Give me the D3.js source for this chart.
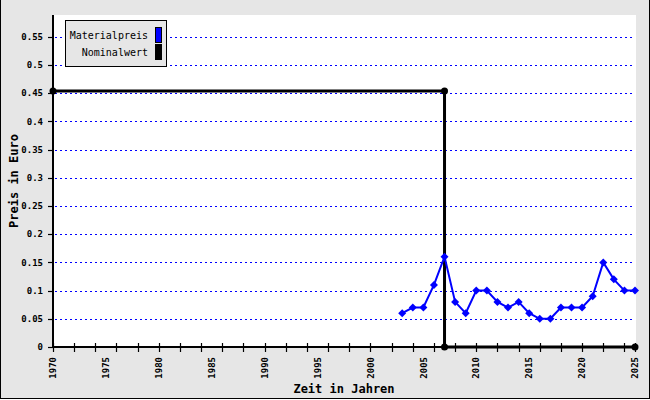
<!DOCTYPE html>
<html><head><meta charset="utf-8">
<script src="https://cdn.jsdelivr.net/npm/d3@7"></script>
<style>body{margin:0;background:#fff}svg{display:block}</style>
</head><body>
<script>
const years = [2003,2004,2005,2006,2007,2008,2009,2010,2011,2012,2013,2014,2015,2016,2017,2018,2019,2020,2021,2022,2023,2024,2025];
const materialpreis = [0.06,0.07,0.07,0.11,0.16,0.08,0.06,0.10,0.10,0.08,0.07,0.08,0.06,0.05,0.05,0.07,0.07,0.07,0.09,0.15,0.12,0.10,0.10];
const nomYears = [1970,2007,2007,2025];
const nominalwert = [0.454,0.454,0,0];
const yTicks = [0,0.05,0.1,0.15,0.2,0.25,0.3,0.35,0.4,0.45,0.5,0.55];
const xLabels = [1970,1975,1980,1985,1990,1995,2000,2005,2010,2015,2020,2025];
const legendNames = ["Materialpreis","Nominalwert"];
const legendColors = ["#0000ff","#000000"];

const W=650,H=400;
const svg=d3.select("body").append("svg").attr("width",W).attr("height",H);
svg.append("rect").attr("x",0.5).attr("y",-1).attr("width",W-1).attr("height",H-0.5).attr("fill","#e6e6e6").attr("stroke","#000").attr("stroke-width",1);
const L=53,R=636,T=15,B=347;
const x=d3.scaleLinear().domain([1970,2025]).range([L,635]);
const y=d3.scaleLinear().domain([0,0.55]).range([B,B-0.55*564]);
svg.append("rect").attr("x",L).attr("y",T).attr("width",R-L).attr("height",B-T).attr("fill","#fff");
const font="'DejaVu Sans Mono', monospace";
// grid
svg.append("g").attr("shape-rendering","crispEdges").selectAll("line").data(yTicks.filter(d=>d>0)).join("line")
 .attr("x1",L+2).attr("x2",R-3).attr("y1",d=>Math.round(y(d))+0.5).attr("y2",d=>Math.round(y(d))+0.5)
 .attr("stroke","#0000ff").attr("stroke-width",1).attr("stroke-dasharray","2,3");
// y ticks
svg.append("g").selectAll("line").data(yTicks).join("line")
 .attr("x1",48).attr("x2",L).attr("y1",d=>Math.round(y(d))+0.5).attr("y2",d=>Math.round(y(d))+0.5)
 .attr("stroke","#000").attr("stroke-width",1.2);
svg.append("g").selectAll("text").data(yTicks).join("text")
 .attr("x",43).attr("y",d=>y(d)).attr("dy","0.35em").attr("text-anchor","end")
 .attr("font-family",font).attr("font-size",9).attr("font-weight","bold").text(d=>String(d));
// x ticks every 2 years
const xt=d3.range(1970,2026,2).concat([2025]);
svg.append("g").selectAll("line").data(xt).join("line")
 .attr("x1",d=>Math.round(x(d))+0.5).attr("x2",d=>Math.round(x(d))+0.5).attr("y1",B-4).attr("y2",B+5)
 .attr("stroke","#000").attr("stroke-width",1.2);
svg.append("g").selectAll("text").data(xLabels).join("text")
 .attr("transform",d=>`translate(${x(d)},357) rotate(-90)`).attr("dy","0.35em").attr("text-anchor","end")
 .attr("font-family",font).attr("font-size",9).attr("font-weight","bold").text(d=>d);
// axes
svg.append("line").attr("x1",L).attr("x2",L).attr("y1",T).attr("y2",B+1).attr("stroke","#000").attr("stroke-width",2);
svg.append("line").attr("x1",L).attr("x2",R).attr("y1",B).attr("y2",B).attr("stroke","#000").attr("stroke-width",2);
// titles
svg.append("text").attr("x",344).attr("y",393).attr("text-anchor","middle").attr("font-family",font).attr("font-size",12).attr("font-weight","bold").text("Zeit in Jahren");
svg.append("text").attr("transform","translate(18,181) rotate(-90)").attr("text-anchor","middle").attr("font-family",font).attr("font-size",12).attr("font-weight","bold").text("Preis in Euro");
// nominal
const nomData=nomYears.map((d,i)=>[d,nominalwert[i]]);
svg.append("path").datum(nomData).attr("d",d3.line().x(d=>x(d[0])).y(d=>y(d[1]))).attr("fill","none").attr("stroke","#000").attr("stroke-width",3);
svg.append("g").selectAll("circle").data(nomData).join("circle").attr("cx",d=>x(d[0])).attr("cy",d=>y(d[1])).attr("r",3.5).attr("fill","#000");
// material
const matData=years.map((d,i)=>[d,materialpreis[i]]);
svg.append("path").datum(matData).attr("d",d3.line().x(d=>x(d[0])).y(d=>y(d[1]))).attr("fill","none").attr("stroke","#0000ff").attr("stroke-width",2);
svg.append("g").selectAll("path.m").data(matData).join("path").attr("class","m")
 .attr("transform",d=>`translate(${x(d[0])},${y(d[1])})`).attr("d","M0,-4L4,0L0,4L-4,0Z").attr("fill","#0000ff");
// legend
const lg=svg.append("g");
lg.append("rect").attr("x",65.5).attr("y",20.5).attr("width",101).attr("height",46).attr("fill","#e6e6e6").attr("stroke","#000");
legendNames.forEach((n,i)=>{
  lg.append("text").attr("x",148).attr("y",35+i*17).attr("dy","0.35em").attr("text-anchor","end").attr("font-family",font).attr("font-size",10).text(n);
  lg.append("rect").attr("x",155.5).attr("y",27.5+i*17).attr("width",6).attr("height",15).attr("fill",legendColors[i]).attr("stroke","#000");
});
</script>
</body></html>
